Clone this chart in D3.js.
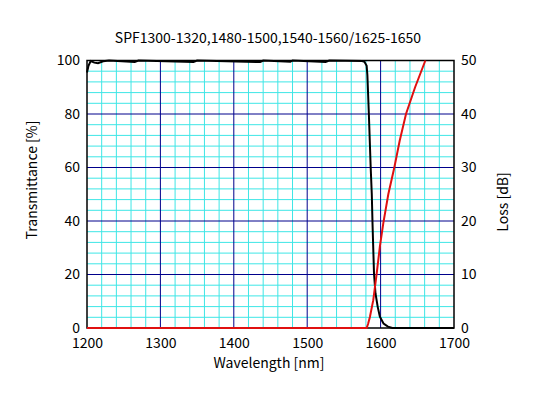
<!DOCTYPE html>
<html>
<head>
<meta charset="utf-8">
<script src="https://cdn.jsdelivr.net/npm/d3@7"></script>
<style>
  body { margin: 0; background: #fff; }
  text { font-family: "Noto Sans CJK JP", "DejaVu Sans", sans-serif; fill: #000; }
</style>
</head>
<body>
<script>
// chart data
var title = "SPF1300-1320,1480-1500,1540-1560/1625-1650";
var xTicks = [1200, 1300, 1400, 1500, 1600, 1700];
var leftTicks = [0, 20, 40, 60, 80, 100];
var rightTicks = [0, 10, 20, 30, 40, 50];

// transmittance [%] (black)
var transWl = [1200, 1202, 1205, 1210, 1215, 1222, 1230, 1265, 1270, 1345, 1350, 1436, 1440,
  1477, 1480, 1525, 1530, 1575, 1578, 1581, 1582, 1584, 1586.5, 1588, 1589, 1591, 1593,
  1596, 1599, 1604, 1610, 1616, 1700];
var transVal = [95.5, 98, 99.8, 99.2, 99.0, 99.7, 100, 99.4, 100, 99.4, 100, 99.4, 100,
  99.5, 100, 99.4, 100, 99.8, 99.5, 98, 94.5, 80, 60, 50, 39, 20.5, 13,
  8, 4.2, 1.7, 0.5, 0, 0];

// loss [dB] (red)
var lossWl = [1200, 1581, 1583, 1585.5, 1590, 1594.7, 1599, 1603.7, 1610.5, 1618.7, 1626, 1634.6, 1647, 1661];
var lossVal = [0, 0, 0.8, 2.1, 5.2, 10.2, 15.2, 19.6, 25, 30, 35, 40, 45, 50];

var W = 535, H = 400;
var margin = {left: 87, top: 60.5, right: 81, bottom: 72};
var width = W - margin.left - margin.right;
var height = H - margin.top - margin.bottom;

var svg = d3.select('body').append('svg')
  .attr('width', W)
  .attr('height', H);

var g = svg.append('g')
  .attr('transform', 'translate(' + margin.left + ',' + margin.top + ')');

var x = d3.scaleLinear().domain([1200, 1700]).range([0, width]);
var yL = d3.scaleLinear().domain([0, 100]).range([height, 0]);
var yR = d3.scaleLinear().domain([0, 50]).range([height, 0]);

// minor grid (cyan)
var minorX = d3.range(1220, 1700, 20).filter(function(d) { return d % 100 != 0; });
var minorY = d3.range(4, 100, 4).filter(function(d) { return d % 20 != 0; });

g.selectAll('.mx').data(minorX).enter().append('line')
  .attr('x1', function(d) { return x(d); }).attr('x2', function(d) { return x(d); })
  .attr('y1', 0).attr('y2', height)
  .attr('stroke', '#3ee6e6').attr('stroke-width', 1);

g.selectAll('.my').data(minorY).enter().append('line')
  .attr('y1', function(d) { return yL(d); }).attr('y2', function(d) { return yL(d); })
  .attr('x1', 0).attr('x2', width)
  .attr('stroke', '#3ee6e6').attr('stroke-width', 1);

// major grid (dark blue)
g.selectAll('.gx').data(xTicks.slice(1, -1)).enter().append('line')
  .attr('x1', function(d) { return x(d); }).attr('x2', function(d) { return x(d); })
  .attr('y1', 0).attr('y2', height)
  .attr('stroke', '#00008b').attr('stroke-width', 1);

g.selectAll('.gy').data(leftTicks.slice(1, -1)).enter().append('line')
  .attr('y1', function(d) { return yL(d); }).attr('y2', function(d) { return yL(d); })
  .attr('x1', 0).attr('x2', width)
  .attr('stroke', '#00008b').attr('stroke-width', 1);

// frame
g.append('rect')
  .attr('width', width).attr('height', height)
  .attr('fill', 'none').attr('stroke', '#000').attr('stroke-width', 1.5);

// axes (labels only)
var fs = '14px';
g.append('g')
  .attr('transform', 'translate(0,' + height + ')')
  .call(d3.axisBottom(x).tickValues(xTicks).tickSize(0).tickPadding(10).tickFormat(d3.format('d')))
  .call(function(a) { a.select('.domain').remove(); a.selectAll('text').attr('font-size', fs); });

g.append('g')
  .call(d3.axisLeft(yL).tickValues(leftTicks).tickSize(0).tickPadding(7))
  .call(function(a) { a.select('.domain').remove(); a.selectAll('text').attr('font-size', fs); });

g.append('g')
  .attr('transform', 'translate(' + width + ',0)')
  .call(d3.axisRight(yR).tickValues(rightTicks).tickSize(0).tickPadding(7))
  .call(function(a) { a.select('.domain').remove(); a.selectAll('text').attr('font-size', fs); });

// curves
svg.append('clipPath').attr('id', 'clip')
  .append('rect').attr('x', -2).attr('y', -2).attr('width', width + 4).attr('height', height + 4);

var trans = transWl.map(function(w, i) { return [w, transVal[i]]; });
var loss = lossWl.map(function(w, i) { return [w, lossVal[i]]; });

g.append('path')
  .datum(trans)
  .attr('clip-path', 'url(#clip)')
  .attr('d', d3.line()
    .x(function(d) { return x(d[0]); })
    .y(function(d) { return yL(d[1]); }))
  .attr('fill', 'none')
  .attr('stroke', '#000')
  .attr('stroke-width', 2);

g.append('path')
  .datum(loss)
  .attr('clip-path', 'url(#clip)')
  .attr('d', d3.line()
    .x(function(d) { return x(d[0]); })
    .y(function(d) { return yR(d[1]); }))
  .attr('fill', 'none')
  .attr('stroke', '#e01010')
  .attr('stroke-width', 2);

// titles
svg.append('text')
  .attr('x', 268).attr('y', 43)
  .attr('text-anchor', 'middle')
  .attr('font-size', '14px')
  .text(title);

svg.append('text')
  .attr('x', 269).attr('y', 368)
  .attr('text-anchor', 'middle')
  .attr('font-size', '14px')
  .text('Wavelength [nm]');

svg.append('text')
  .attr('transform', 'translate(37,180) rotate(-90)')
  .attr('text-anchor', 'middle')
  .attr('font-size', '14px')
  .text('Transmittance [%]');

svg.append('text')
  .attr('transform', 'translate(508,202) rotate(-90)')
  .attr('text-anchor', 'middle')
  .attr('font-size', '14px')
  .text('Loss [dB]');
</script>
</body>
</html>
